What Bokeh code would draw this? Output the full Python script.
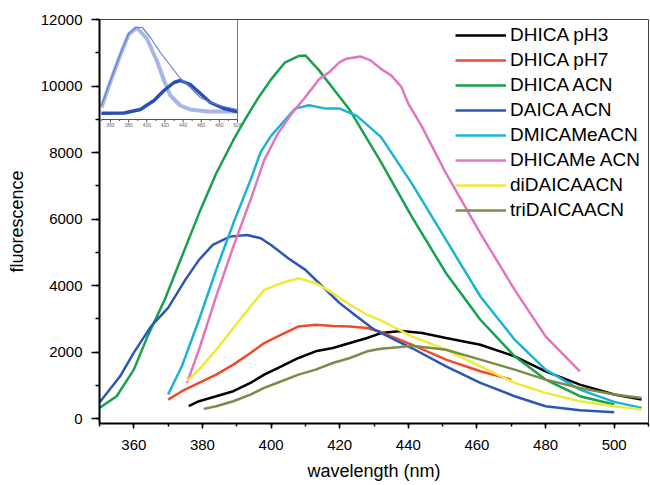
from bokeh.plotting import figure
from bokeh.models import Range1d, SingleIntervalTicker, Legend, LegendItem
from bokeh.embed import file_html
from bokeh.resources import INLINE
from bokeh.core.properties import value

FONT = "Liberation Sans"

# ---------------- data ----------------
series_names = ["DHICA pH3", "DHICA pH7", "DHICA ACN", "DAICA ACN",
                "DMICAMeACN", "DHICAMe ACN", "diDAICAACN", "triDAICAACN"]
series_colors = ["#000000", "#f4482c", "#16a24c", "#2b56b8",
                 "#19b3da", "#e274c0", "#efe93a", "#7c8c46"]

pH3_wl = [376, 379, 384, 389, 394, 398, 403, 408, 413, 418, 423, 428, 432, 438, 444, 451, 461, 471, 480, 490, 500, 508]
pH3_val = [370, 520, 670, 820, 1070, 1320, 1570, 1820, 2020, 2120, 2270, 2420, 2570, 2630, 2570, 2420, 2220, 1870, 1420, 1020, 720, 570]

pH7_wl = [370, 374, 379, 384, 389, 394, 398, 403, 408, 413, 418, 423, 428, 432, 441, 451, 461, 470]
pH7_val = [570, 820, 1070, 1320, 1620, 1970, 2270, 2520, 2770, 2820, 2780, 2770, 2720, 2600, 2220, 1770, 1420, 1170]

dhica_acn_wl = [350, 355, 360, 364, 369, 374, 379, 384, 389, 392, 396, 400, 404, 408, 410, 414, 417, 420, 423, 432, 441, 451, 461, 471, 480, 490, 500]
dhica_acn_val = [320, 670, 1470, 2470, 3570, 4870, 6170, 7370, 8370, 8920, 9600, 10200, 10700, 10900, 10920, 10470, 10070, 9670, 9270, 7720, 6070, 4370, 2970, 1870, 1170, 670, 420]

daica_acn_wl = [350, 356, 360, 365, 370, 375, 379, 383, 388, 393, 397, 400, 405, 410, 415, 420, 425, 430, 437, 441, 451, 461, 471, 480, 490, 500]
daica_acn_val = [480, 1270, 1980, 2770, 3330, 4170, 4770, 5220, 5470, 5520, 5420, 5220, 4820, 4470, 3970, 3470, 3070, 2680, 2320, 2120, 1570, 1070, 670, 370, 250, 190]

dmicame_wl = [370, 374, 379, 384, 389, 394, 397, 400, 404, 407, 411, 416, 420, 425, 432, 441, 451, 461, 471, 480, 490, 500, 508]
dmicame_val = [720, 1570, 2970, 4470, 5870, 7170, 8020, 8500, 8970, 9320, 9420, 9320, 9320, 9100, 8470, 7070, 5370, 3670, 2370, 1470, 870, 500, 320]

dhicame_wl = [375.5, 379, 384, 389, 394, 398, 402, 406, 410, 414, 417, 420, 422, 426, 429, 432, 435, 438, 440, 444, 451, 461, 471, 480, 490]
dhicame_val = [1070, 2070, 3670, 5170, 6570, 7770, 8570, 9170, 9670, 10200, 10420, 10720, 10820, 10890, 10770, 10520, 10320, 9970, 9470, 8770, 7370, 5570, 3870, 2470, 1420]

di_wl = [375.5, 379, 384, 389, 394, 398, 403, 408, 413, 418, 423, 428, 432, 441, 451, 461, 471, 480, 490, 500, 508]
di_val = [1120, 1470, 2070, 2720, 3370, 3870, 4070, 4220, 4070, 3770, 3420, 3120, 2950, 2470, 2070, 1570, 1070, 770, 520, 370, 270]

tri_wl = [380.4, 384, 389, 394, 398, 403, 408, 413, 418, 423, 428, 432, 437, 441, 451, 461, 471, 480, 490, 500, 508]
tri_val = [290, 370, 520, 720, 920, 1120, 1320, 1470, 1670, 1820, 2020, 2100, 2140, 2190, 2070, 1770, 1470, 1170, 920, 720, 620]

series_x = [pH3_wl, pH7_wl, dhica_acn_wl, daica_acn_wl, dmicame_wl, dhicame_wl, di_wl, tri_wl]
series_y = [pH3_val, pH7_val, dhica_acn_val, daica_acn_val, dmicame_val, dhicame_val, di_val, tri_val]

# inset (arbitrary units): measured spectrum and two fitted components
inset_raw_wl = [350, 360, 371, 380, 388, 395, 404, 415, 426, 437, 448, 459, 470, 485, 500]
inset_raw_val = [0.14, 0.39, 0.66, 0.86, 0.92, 0.92, 0.82, 0.67, 0.54, 0.41, 0.32, 0.22, 0.17, 0.13, 0.10]
inset_c1_wl = [350, 360, 371, 380, 389, 400, 411, 419, 426, 437, 448, 467, 500]
inset_c1_val = [0.12, 0.38, 0.65, 0.85, 0.92, 0.81, 0.59, 0.39, 0.24, 0.14, 0.10, 0.08, 0.08]
inset_c2_wl = [350, 375, 393, 408, 419, 430, 437, 448, 459, 470, 485, 500]
inset_c2_val = [0.063, 0.065, 0.10, 0.19, 0.29, 0.37, 0.39, 0.35, 0.26, 0.17, 0.11, 0.078]
inset_ticks = [360, 380, 400, 420, 440, 460, 480, 500]
inset_minor = [350, 370, 390, 410, 430, 450, 470, 490]
inset_labels = ["360", "380", "400", "420", "440", "460", "480", "500"]

# ---------------- figure ----------------
W, H = 650, 485
BL, BR, BT, BB = 99, 2, 19, 62
FW, FH = W - BL - BR, H - BT - BB

p = figure(width=W, height=H, output_backend="svg", toolbar_location=None,
           x_range=Range1d(350, 510), y_range=Range1d(-150, 12000),
           min_border_left=BL, min_border_right=BR, min_border_top=BT, min_border_bottom=BB)
p.background_fill_color = "white"
p.border_fill_color = "white"
p.outline_line_color = "#444444"
p.outline_line_width = 1
p.grid.visible = False

p.xaxis.ticker = SingleIntervalTicker(interval=20, num_minor_ticks=2)
p.yaxis.ticker = SingleIntervalTicker(interval=2000, num_minor_ticks=2)
for ax in (p.xaxis[0], p.yaxis[0]):
    ax.axis_line_color = "black"
    ax.axis_line_width = 2
    ax.major_tick_line_color = "black"
    ax.minor_tick_line_color = "black"
    ax.major_tick_line_width = 1.5
    ax.minor_tick_line_width = 1.5
    ax.major_tick_in = 0
    ax.minor_tick_in = 0
    ax.major_label_text_font = FONT
    ax.major_label_text_font_size = "15px"
    ax.major_label_text_color = "black"
    ax.axis_label_text_font = FONT
    ax.axis_label_text_font_size = "18px"
    ax.axis_label_text_font_style = "normal"
    ax.axis_label_text_color = "black"

p.xaxis.axis_label = "wavelength (nm)"
p.xaxis.major_tick_out = 5
p.xaxis.minor_tick_out = 3
p.xaxis.major_label_standoff = 11
p.xaxis.axis_label_standoff = 8

p.yaxis.axis_label = "fluorescence"
p.yaxis.major_tick_out = 8
p.yaxis.minor_tick_out = 4
p.yaxis.major_label_standoff = 9
p.yaxis.axis_label_standoff = 11

# ---------------- inset through extra ranges ----------------
# inset occupies frame pixels x 1.9..138 (350..500 nm) and y from top down to 100 px (0..1)
ix0, ix1 = 1.9 / FW, 138.0 / FW
iy0 = (FH - 100.0) / FH
xspan = (500 - 350) / (ix1 - ix0)
xs = 350 - ix0 * xspan
yspan = 1.0 / (1.0 - iy0)
ys = -iy0 * yspan
p.extra_x_ranges = {"ix": Range1d(xs, xs + xspan)}
p.extra_y_ranges = {"iy": Range1d(ys, ys + yspan)}
kw = dict(x_range_name="ix", y_range_name="iy")

p.line(inset_c1_wl, inset_c1_val, line_color="#a7b6e6", line_width=4, **kw)
p.line(inset_c2_wl, inset_c2_val, line_color="#2c4fb4", line_width=3.5, **kw)
p.line(inset_raw_wl, inset_raw_val, line_color="#5f82d6", line_width=1.2, **kw)

p.segment(x0=[350], y0=[0], x1=[500], y1=[0], line_color="#555555", line_width=1, **kw)
p.segment(x0=[500], y0=[0], x1=[500], y1=[1.0], line_color="#777777", line_width=1, **kw)
p.segment(x0=inset_ticks, y0=[0] * len(inset_ticks), x1=inset_ticks, y1=[-0.03] * len(inset_ticks),
          line_color="#555555", line_width=1, **kw)
p.segment(x0=inset_minor, y0=[0] * len(inset_minor), x1=inset_minor, y1=[-0.015] * len(inset_minor),
          line_color="#555555", line_width=1, **kw)
p.text(x=inset_ticks, y=[-0.035] * len(inset_ticks), text=inset_labels,
       text_font=value(FONT), text_font_size="5px", text_color="#666666",
       text_align="center", text_baseline="top", **kw)

# ---------------- main curves ----------------
renderers = []
for xv, yv, c in zip(series_x, series_y, series_colors):
    renderers.append(p.line(xv, yv, line_color=c, line_width=2.5))

items = [LegendItem(label=n, renderers=[r]) for n, r in zip(series_names, renderers)]
legend = Legend(items=items, location=(356, 202))
legend.label_text_font = FONT
legend.label_text_font_size = "19px"
legend.label_text_color = "black"
legend.glyph_width = 51
legend.glyph_height = 20
legend.label_height = 20
legend.label_standoff = 4
legend.spacing = 3
legend.padding = 2
legend.margin = 0
legend.border_line_color = None
legend.background_fill_alpha = 0
p.add_layout(legend)

open("out.html", "w").write(file_html(p, INLINE))
